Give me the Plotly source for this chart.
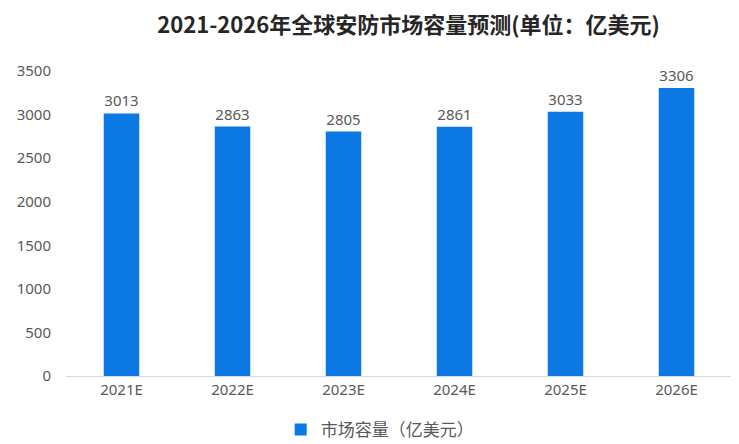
import plotly.graph_objects as go

categories = ["2021E", "2022E", "2023E", "2024E", "2025E", "2026E"]
values = [3013, 2863, 2805, 2861, 3033, 3306]
series_name = "市场容量（亿美元）"
title_text = "2021-2026年全球安防市场容量预测(单位：亿美元)"
y_ticks = [0, 500, 1000, 1500, 2000, 2500, 3000, 3500]

fig = go.Figure()
fig.add_trace(go.Bar(
    x=categories, y=values, name=series_name,
    marker=dict(color="#0B78E3", line=dict(width=0)),
    width=0.32,
    text=[str(v) for v in values], textposition="outside",
    textfont=dict(size=15, color="#595959", family="Noto Sans, Arial"),
    cliponaxis=False,
))

# page body adds an 8px offset, so the figure is drawn 8px smaller
fig.update_layout(
    width=731, height=436,
    paper_bgcolor="white", plot_bgcolor="white",
    margin=dict(l=58, r=7, t=63, b=68, autoexpand=False),
    title=dict(text=title_text, x=0.548, xanchor="center", y=0.96, yanchor="middle",
               font=dict(size=22, color="#262626", family="Noto Sans CJK SC", weight="bold")),
    showlegend=True,
    legend=dict(orientation="h", x=0.471, xanchor="center", y=-0.177, yanchor="middle",
                font=dict(size=17, color="#595959", family="Noto Sans CJK SC"),
                itemwidth=30, bgcolor="rgba(0,0,0,0)"),
)
fig.update_xaxes(showline=True, linecolor="#D9D9D9", linewidth=1, ticks="",
                 tickfont=dict(size=15, color="#595959", family="Noto Sans, Arial"),
                 showgrid=False)
fig.update_yaxes(range=[0, 3500], tickvals=y_ticks, showgrid=False, zeroline=False,
                 showline=False, ticks="", ticklabelstandoff=14,
                 tickfont=dict(size=15, color="#595959", family="Noto Sans, Arial"))

fig.write_html("out.html")
